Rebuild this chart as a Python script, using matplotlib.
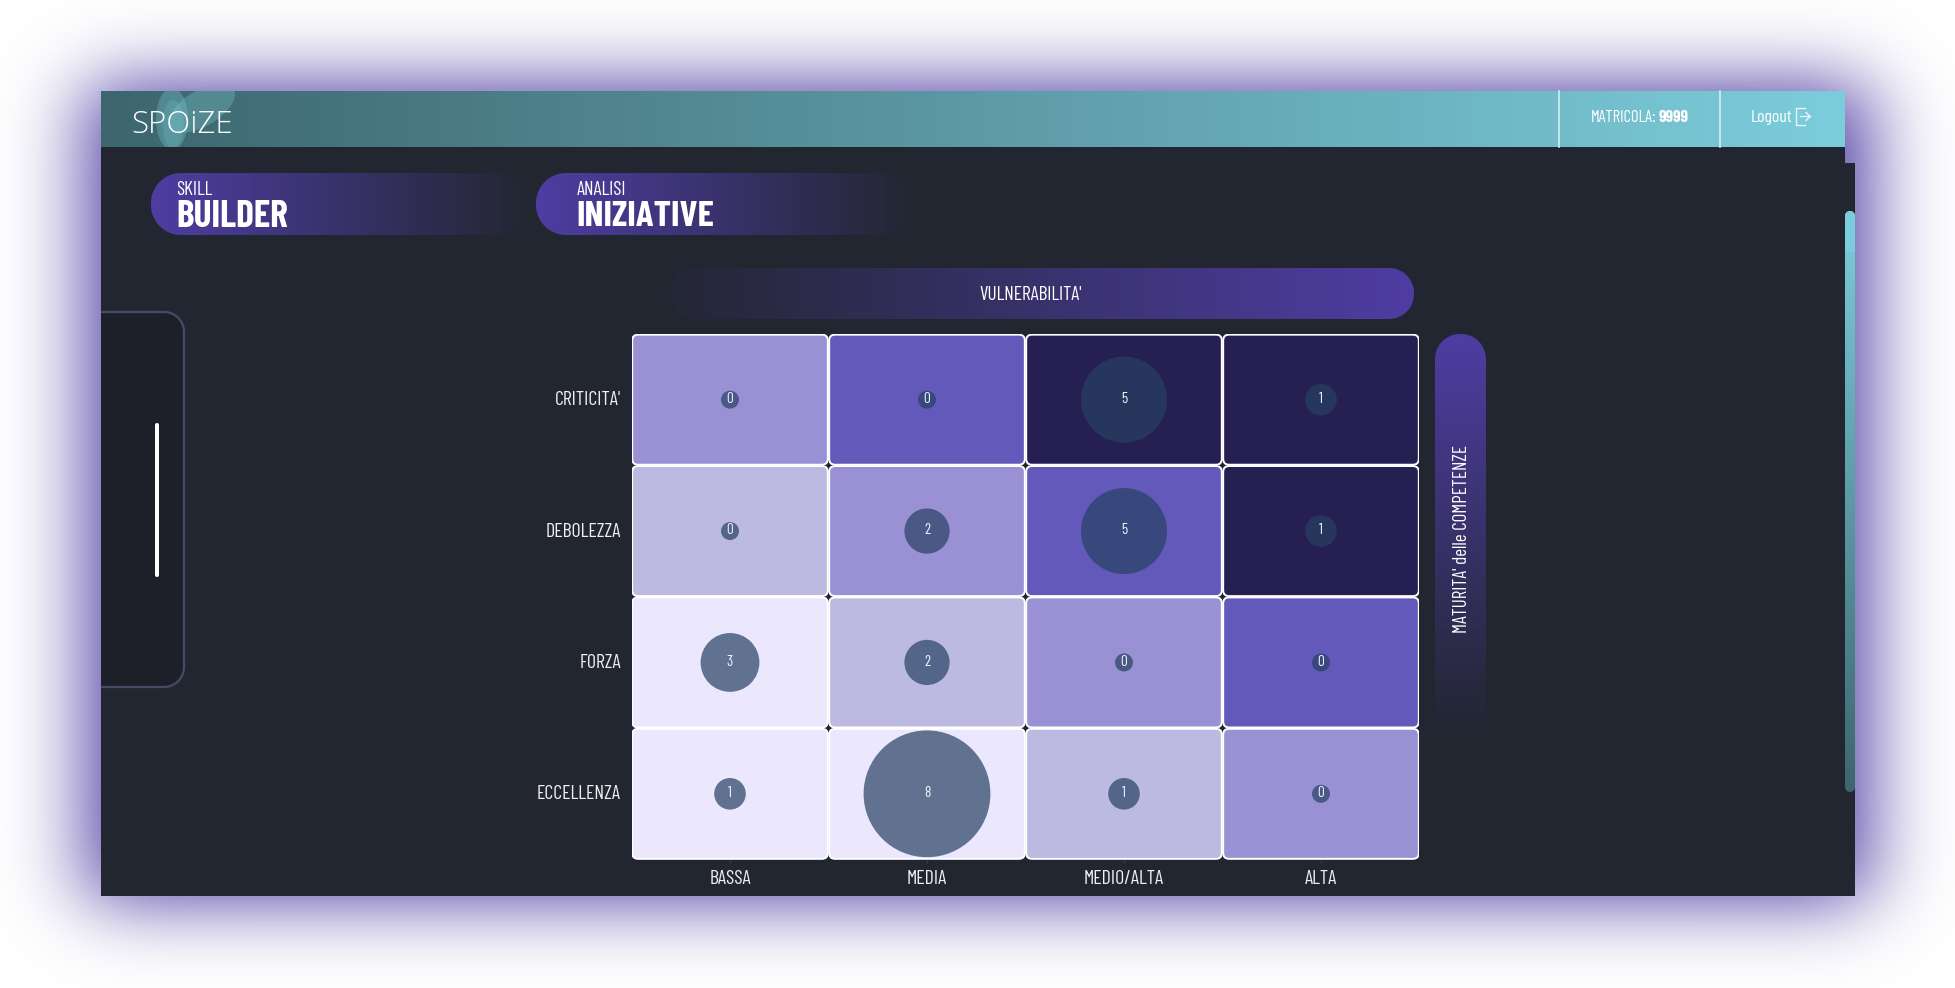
import math

import matplotlib

matplotlib.use("Agg")
import matplotlib.pyplot as plt
import numpy as np
from matplotlib.colors import to_rgb
from matplotlib.patches import Ellipse, FancyBboxPatch, Polygon, Rectangle
from matplotlib.transforms import ScaledTranslation

rows = ["CRITICITA'", "DEBOLEZZA", "FORZA", "ECCELLENZA"]
cols = ["BASSA", "MEDIA", "MEDIO/ALTA", "ALTA"]
counts = [
    [0, 0, 5, 1],
    [0, 2, 5, 1],
    [3, 2, 0, 0],
    [1, 8, 1, 0],
]
levels = [
    [2, 3, 4, 4],
    [1, 2, 3, 4],
    [0, 1, 2, 3],
    [0, 0, 1, 2],
]
palette = ["#ebe7fd", "#bdbae2", "#9a91d4", "#6259bb", "#261f52"]

BG = "#222631"
PURPLE = "#4f3da3"
WIDTH, HEIGHT = 1956, 988

plt.rcParams["font.family"] = ["Barlow Condensed", "Liberation Sans Narrow", "Roboto", "DejaVu Sans"]

fig = plt.figure(figsize=(WIDTH / 100, HEIGHT / 100), dpi=100, facecolor="white")
page = fig.add_axes([0, 0, 1, 1])
page.axis("off")


def cdf(values, mid, sigma):
    return np.array([0.5 * (1 + math.erf((v - mid) / (sigma * math.sqrt(2)))) for v in values])


def rounded(x0, y0, x1, y1, r, **kw):
    pts = []
    for cx, cy, start in [(x1 - r, y0 + r, -90), (x1 - r, y1 - r, 0), (x0 + r, y1 - r, 90), (x0 + r, y0 + r, 180)]:
        a = np.radians(np.linspace(start, start + 90, 20))
        pts.extend(zip(cx + r * np.cos(a), cy + r * np.sin(a)))
    return Polygon(pts, closed=True, **kw)


def gradient(x0, x1, y0, y1, c0, c1, vertical=False, clip=None, zorder=2):
    t = np.linspace(0, 1, 256)
    c0, c1 = np.array(to_rgb(c0)), np.array(to_rgb(c1))
    img = c0 + (c1 - c0) * t[:, None]
    img = img[:, None, :] if vertical else img[None, :, :]
    im = page.imshow(img, extent=(x0, x1, y1, y0), aspect="auto", zorder=zorder, interpolation="bilinear")
    if clip is not None:
        clip.set(facecolor="none", edgecolor="none")
        page.add_patch(clip)
        im.set_clip_path(clip)
    return im


# purple glow behind the screen
px = np.arange(WIDTH) + 0.5
py = np.arange(HEIGHT) + 0.5
fx = cdf(px, 87, 40) - cdf(px, 1869, 40)
fy = cdf(py, 85, 37) - cdf(py, 901, 37)
alpha = np.outer(fy, fx)
glow = np.ones((HEIGHT, WIDTH, 3))
glow = glow + (np.array(to_rgb(PURPLE)) - glow) * alpha[:, :, None]
page.imshow(glow, extent=(0, WIDTH, HEIGHT, 0), aspect="auto", zorder=0)

# screen
page.add_patch(Rectangle((101, 147), 1744, 749, color=BG, lw=0, zorder=1))
page.add_patch(Rectangle((1845, 163), 10, 733, color=BG, lw=0, zorder=1))
gradient(101, 1845, 91, 147, "#3d666e", "#7ccddc")
gradient(1845, 1855, 211, 792, "#7ccddc", "#3d666e", vertical=True, clip=rounded(1845, 211, 1855, 792, 5))
gradient(1845, 1855, 211, 252, "#7ccddc", "#7ccddc", vertical=True, clip=rounded(1845, 211, 1855, 262, 5), zorder=2.5)

# logo
for cx, cy, w, h, ang, a in [
    (172, 119, 32, 62, 0, 0.30),
    (173, 124, 21, 48, 0, 0.20),
    (202, 108, 74, 36, -31, 0.30),
]:
    e = Ellipse((cx, cy), w, h, angle=ang, color="#7fd0d8", alpha=a, lw=0, zorder=3)
    page.add_patch(e)
    e.set_clip_path(Rectangle((101, 91), 300, 56, transform=page.transData))
page.text(131, 125, "SPOiZE", color="white", fontsize=22.5, family=["Open Sans", "DejaVu Sans"], weight=300,
          va="center", ha="left", zorder=5)

# header right side
page.plot([1559, 1559], [91, 147], color="#d5edf1", lw=1.2, zorder=4)
page.plot([1720, 1720], [91, 147], color="#d5edf1", lw=1.2, zorder=4)
page.text(1591, 118, "MATRICOLA:", color="white", fontsize=12, va="center", ha="left", zorder=5)
page.text(1689, 118, "9999", color="white", fontsize=12.5, weight="bold", va="center", ha="right", zorder=5)
page.text(1751, 117.5, "Logout", color="white", fontsize=13, va="center", ha="left", zorder=5)
page.plot([1805, 1796, 1796, 1805], [108, 108, 125, 125], color="#e8f6f8", lw=1.0, zorder=5)
page.plot([1800, 1810], [116.5, 116.5], color="#e8f6f8", lw=1.0, zorder=5)
page.plot([1806, 1810, 1806], [112.5, 116.5, 120.5], color="#e8f6f8", lw=1.0, zorder=5)

# title pills
for x0, x1, tx, small, big, size in [
    (151, 526, 176, "SKILL", "BUILDER", 27),
    (536, 909, 576.5, "ANALISI", "INIZIATIVE", 26.7),
]:
    gradient(x0, x1 + 8, 173, 235, PURPLE, BG, clip=rounded(x0, 173, x1, 235, 30))
    page.text(tx, 190, small, color="white", fontsize=14, va="center", zorder=5)
    page.text(tx, 217, big, color="white", fontsize=size, weight="bold", va="center", zorder=5)

# axis title bars
gradient(640, 1414, 268, 319, BG, PURPLE, clip=rounded(670, 268, 1414, 319, 25))
page.text(1031, 295, "VULNERABILITA'", color="white", fontsize=14, ha="center", va="center", zorder=5)
gradient(1435, 1486, 334, 732, PURPLE, BG, vertical=True, clip=rounded(1435, 334, 1486, 760, 25))
page.text(1462, 539, "MATURITA' delle COMPETENZE", color="white", fontsize=13.7, rotation=90,
          ha="center", va="center", zorder=5)

# left drawer and scroll handle
drawer = rounded(60, 312, 184, 687, 20, facecolor="#1e2029", edgecolor="#454b63", lw=1.6, zorder=1.5)
page.add_patch(drawer)
drawer.set_clip_path(Rectangle((101, 0), 300, HEIGHT, transform=page.transData))
page.add_patch(rounded(155, 423, 159, 577, 2, facecolor="white", edgecolor="none", zorder=3))

page.set_xlim(0, WIDTH)
page.set_ylim(HEIGHT, 0)

# matrix
GX0, GX1, GY0, GY1 = 631.5, 1419.5, 334, 859.5
ax = fig.add_axes([GX0 / WIDTH, 1 - GY1 / HEIGHT, (GX1 - GX0) / WIDTH, (GY1 - GY0) / HEIGHT], zorder=5)
ax.set_facecolor("none")
ax.set_xlim(-0.5, len(cols) - 0.5)
ax.set_ylim(len(rows) - 0.5, -0.5)
aspect = ((GX1 - GX0) / len(cols)) / ((GY1 - GY0) / len(rows))
for side in ax.spines.values():
    side.set_visible(False)

for r, row in enumerate(levels):
    for c, level in enumerate(row):
        ax.add_patch(FancyBboxPatch(
            (c - 0.5 + 0.0035, r - 0.5 + 0.005), 0.993, 0.99,
            boxstyle="round,pad=0,rounding_size=0.03", mutation_aspect=aspect,
            facecolor=palette[level], edgecolor="white", lw=1.4, zorder=1,
        ))

xs, ys, sizes, labels = [], [], [], []
for r, row in enumerate(counts):
    for c, value in enumerate(row):
        xs.append(c)
        ys.append(r)
        diameter = 18 + 13.6 * value
        sizes.append((diameter * 0.72) ** 2)
        labels.append(str(value))
ax.scatter(xs, ys, s=sizes, color="#274163", alpha=0.7, linewidths=0, zorder=2)
for x, y, label in zip(xs, ys, labels):
    ax.annotate(label, (x, y), xytext=(0, 0.5), textcoords="offset points", color="#f2f2fa",
                fontsize=11, ha="center", va="center", zorder=3)

ax.set_xticks(range(len(cols)), cols)
ax.set_yticks(range(len(rows)), rows)
ax.tick_params(axis="x", length=2, width=0.8, color="#3a3f4c", labelcolor="#f0f0f0", labelsize=14.3, pad=5.5)
ax.tick_params(axis="y", length=0, labelcolor="#f0f0f0", labelsize=14.3, pad=7.5)
for label in ax.get_yticklabels():
    label.set_transform(label.get_transform() + ScaledTranslation(0, 1 / 72, fig.dpi_scale_trans))

fig.savefig("out.png", dpi=100)
